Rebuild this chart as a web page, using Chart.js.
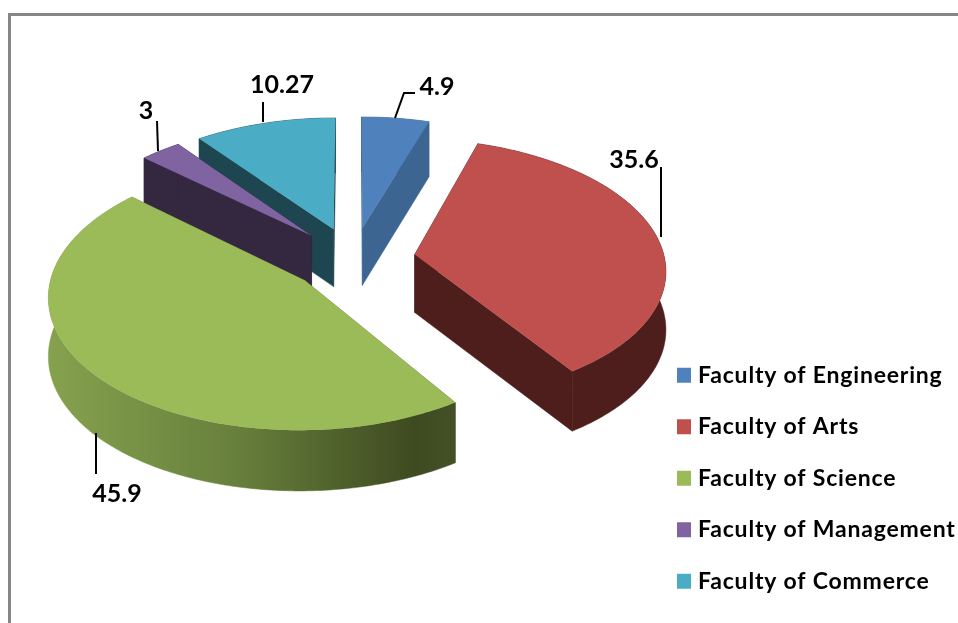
<!DOCTYPE html>
<html>
<head>
<meta charset="utf-8">
<style>
  html, body { margin: 0; background: #fff; overflow: hidden; }
  #frame { position: absolute; left: 8px; top: 13px; width: 950px; height: 610px;
           border-left: 3px solid #868686; border-top: 3px solid #868686; box-sizing: border-box; }
  canvas { position: absolute; left: 0; top: 0; }
</style>
</head>
<body>
<div id="frame"></div>
<canvas id="pie" width="958" height="623"></canvas>
<script src="https://cdn.jsdelivr.net/npm/chart.js@4/dist/chart.umd.min.js"></script>
<script>
const faculties = ["Faculty of Engineering", "Faculty of Arts", "Faculty of Science", "Faculty of Management", "Faculty of Commerce"];
const shares = [4.9, 35.6, 45.9, 3, 10.27];
const topColors = ["#4f81bd", "#c0504d", "#9bbb59", "#8064a2", "#4bacc6"];
const sideColors = ["#3c6591", "#4e1e1c", "#6b8340", "#33283f", "#1e4650"];
const scienceSide = ["#86a24e", "#677f3c", "#3e4a20", "#445025"];

// painted back to front
const paintOrder = [4, 3, 0, 1, 2];

// label box centre, then the leader line, same order as faculties
const labelSpots = [
  { x: 437, y: 87, line: [[395, 118], [404, 93], [415, 93]] },
  { x: 634, y: 160, line: [[661, 167], [661, 237]] },
  { x: 117, y: 494, line: [[96, 433], [96, 474]] },
  { x: 146, y: 111, line: [[157, 121], [158, 151]] },
  { x: 282, y: 85, line: [[263, 102], [263, 122]] }
];

// tilted pie: flat arc geometry from chart.js gets projected on to the page
const view = { cx: 353, cy: 259, a: 250, b: 129, c: 0.106, depth: 58, depthSlope: 22, explode: 0.25 };

function project(u, v){
  const w = 1 - view.c * v;
  return { x: view.cx + view.a * u / w, y: view.cy + view.b * v / w, d: view.depth - view.depthSlope * (w - 1) };
}

function slicePoints(el){
  const mid = (el.startAngle + el.endAngle) / 2;
  const ou = Math.cos(mid) * view.explode, ov = Math.sin(mid) * view.explode;
  const n = Math.max(4, Math.ceil((el.endAngle - el.startAngle) / 0.015));
  const rim = [];
  for(let i = 0; i <= n; i++){
    const t = el.startAngle + (el.endAngle - el.startAngle) * i / n;
    rim.push(project(ou + Math.cos(t), ov + Math.sin(t)));
  }
  return { apex: project(ou, ov), rim };
}

function wall(ctx, pts, fill){
  ctx.beginPath();
  pts.forEach((p, i) => i ? ctx.lineTo(p.x, p.y) : ctx.moveTo(p.x, p.y));
  for(let i = pts.length - 1; i >= 0; i--) ctx.lineTo(pts[i].x, pts[i].y + pts[i].d);
  ctx.closePath();
  ctx.fillStyle = fill;
  ctx.fill();
  ctx.strokeStyle = fill;
  ctx.lineWidth = 0.5;
  ctx.stroke();
}

const pie3d = {
  id: "pie3d",
  afterLayout(chart){
    // legend sits in the lower right, whatever the pie needs
    const lg = chart.legend;
    const pad = chart.options.plugins.legend.labels.padding;
    lg.left = 681.5 - pad;
    lg.right = 958;
    lg.top = 362 - pad;
    lg.bottom = 623;
  },
  beforeDraw(chart){
    // stretches the legend text to the reference width
    chart.ctx.letterSpacing = "0.8px";
  },
  beforeDatasetsDraw(chart){
    const ctx = chart.ctx;
    const arcs = chart.getDatasetMeta(0).data;
    ctx.save();
    ctx.letterSpacing = "0px";
    paintOrder.forEach(i => {
      const s = slicePoints(arcs[i]);
      let rimFill = sideColors[i];
      if(i === 2){
        const g = ctx.createLinearGradient(46, 0, 456, 0);
        g.addColorStop(0, scienceSide[0]);
        g.addColorStop(0.47, scienceSide[1]);
        g.addColorStop(0.9, scienceSide[2]);
        g.addColorStop(1, scienceSide[3]);
        rimFill = g;
      }
      wall(ctx, [s.apex, s.rim[0]], sideColors[i]);
      wall(ctx, [s.apex, s.rim[s.rim.length - 1]], sideColors[i]);
      wall(ctx, s.rim, rimFill);
      ctx.beginPath();
      ctx.moveTo(s.apex.x, s.apex.y);
      s.rim.forEach(p => ctx.lineTo(p.x, p.y));
      ctx.closePath();
      ctx.fillStyle = topColors[i];
      ctx.fill();
    });
    // value labels
    ctx.strokeStyle = "#000";
    ctx.lineWidth = 2;
    ctx.fillStyle = "#000";
    ctx.font = "bold 25px Lato";
    ctx.textAlign = "center";
    ctx.textBaseline = "middle";
    labelSpots.forEach((spot, i) => {
      ctx.beginPath();
      spot.line.forEach((p, j) => j ? ctx.lineTo(p[0], p[1]) : ctx.moveTo(p[0], p[1]));
      ctx.stroke();
      ctx.fillText(String(shares[i]), spot.x, spot.y);
    });
    ctx.restore();
    return false;
  }
};

new Chart(document.getElementById("pie"), {
  type: "pie",
  data: {
    labels: faculties,
    datasets: [{ data: shares, backgroundColor: topColors, borderWidth: 0 }]
  },
  plugins: [pie3d],
  options: {
    responsive: false,
    animation: false,
    events: [],
    plugins: {
      tooltip: { enabled: false },
      legend: {
        position: "right",
        labels: {
          font: { family: "Lato", weight: "bold", size: 23 },
          color: "#000",
          boxWidth: 5,
          boxHeight: 6,
          padding: 28.5,
          generateLabels(chart){
            // thick outline makes the 14px swatch while keeping the text close to it
            return Chart.overrides.pie.plugins.legend.labels.generateLabels(chart).map(item => {
              item.strokeStyle = item.fillStyle;
              item.lineWidth = 9;
              return item;
            });
          }
        }
      }
    }
  }
});
</script>
</body>
</html>
